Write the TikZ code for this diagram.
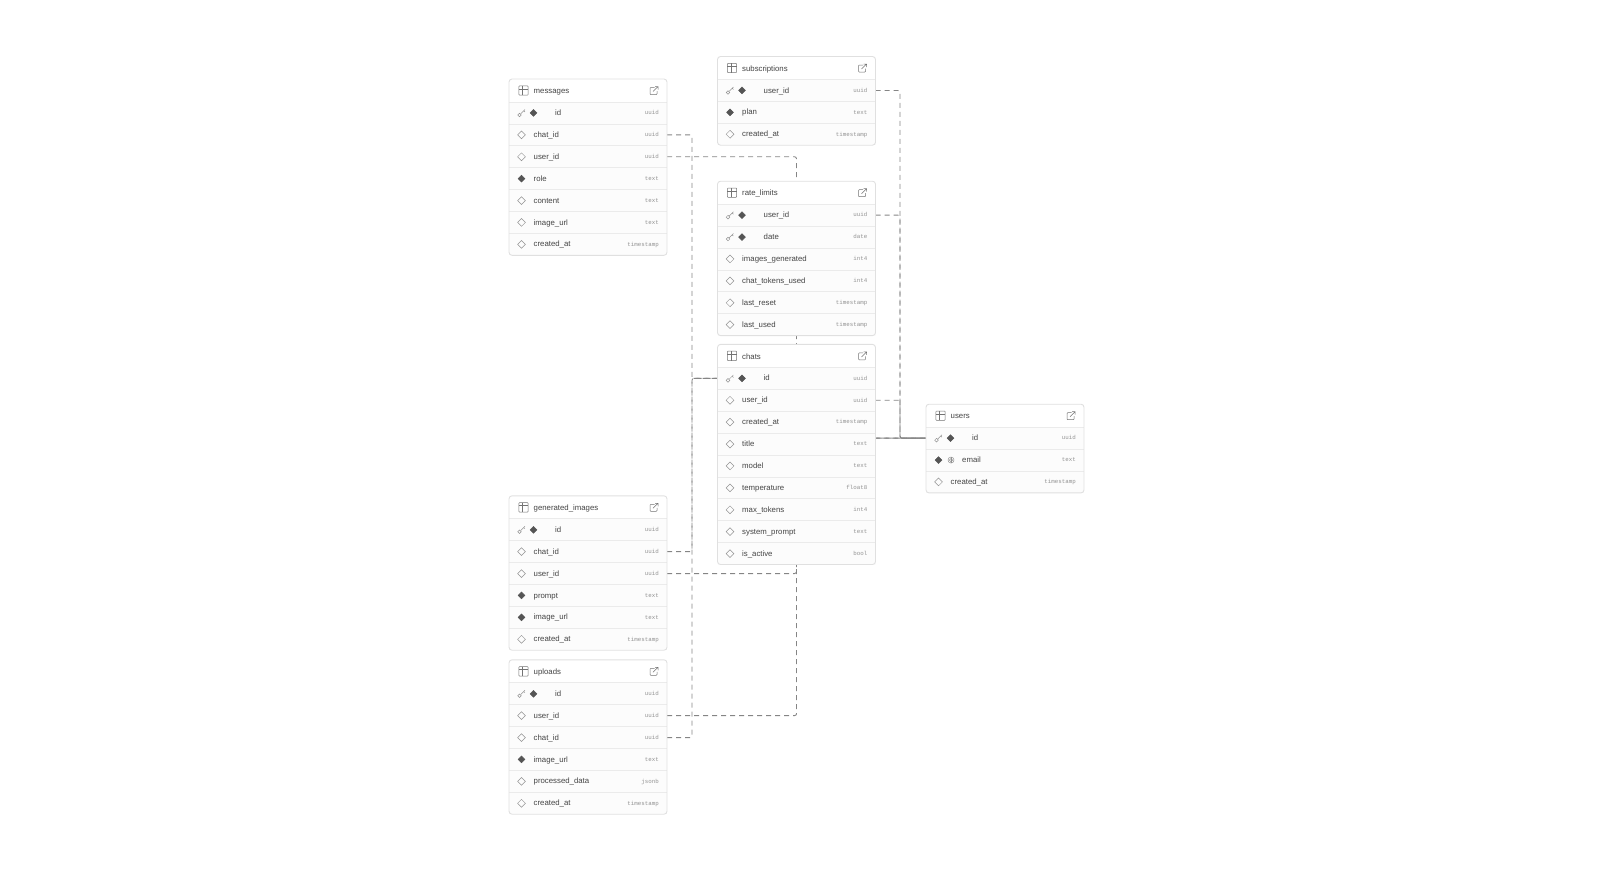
\documentclass[tikz,border=0pt]{standalone}
\usepackage{fontspec}
\setmainfont{Liberation Sans}
\setmonofont{Liberation Mono}
\usetikzlibrary{positioning,shapes.geometric,backgrounds}

\definecolor{inkdark}{HTML}{444444}
\definecolor{inkfull}{HTML}{555555}
\definecolor{inkgrey}{HTML}{929292}
\definecolor{edgegrey}{HTML}{E0E0E0}
\definecolor{rulegrey}{HTML}{EBEBEB}
\definecolor{rowfill}{HTML}{FCFCFC}
\definecolor{linkgrey}{HTML}{858585}

\tikzset{
  headbox/.style={minimum width=158pt, minimum height=23pt, inner sep=0pt, outer sep=0pt, fill=white},
  rowbox/.style={minimum width=158pt, minimum height=21.9pt, inner sep=0pt, outer sep=0pt, fill=rowfill},
  nametext/.style={anchor=west, inner sep=0pt, text=inkdark, font=\fontsize{7.8pt}{9pt}\selectfont, text height=6pt, text depth=2pt},
  typetext/.style={anchor=east, inner sep=0pt, text=inkgrey, font=\ttfamily\fontsize{5.8pt}{7pt}\selectfont, text height=5pt, text depth=1.5pt},
  openmark/.style={diamond, draw=inkgrey, line width=0.5pt, minimum width=8pt, minimum height=8pt, inner sep=0pt},
  fullmark/.style={diamond, draw=inkfull, fill=inkfull, line width=0.5pt, minimum width=7pt, minimum height=7pt, inner sep=0pt},
  rowline/.style={draw=rulegrey, line width=0.8pt},
  frameline/.style={draw=edgegrey, line width=0.9pt, rounded corners=3pt},
  iconline/.style={draw=inkdark!75, line width=0.5pt},
  fainticon/.style={draw=inkgrey, line width=0.5pt},
  fk/.style={draw=linkgrey, line width=0.9pt, dash pattern=on 5pt off 4pt, rounded corners=2pt},
  keyicon/.pic={
    \draw[fainticon] (-2,-2) circle (1.8);
    \draw[fainticon] (-0.8,-0.8) -- (3.4,3.4) (2.2,2.2) -- (3.4,1);
  },
  gridicon/.pic={
    \draw[iconline, rounded corners=0.8pt] (-4.7,-4.7) rectangle (4.7,4.7);
    \draw[iconline] (-4.7,1.6) -- (4.7,1.6) (-1,4.7) -- (-1,-4.7);
  },
  linkicon/.pic={
    \draw[iconline, rounded corners=0.8pt] (0.5,3) -- (-4,3) -- (-4,-4) -- (3,-4) -- (3,-0.5);
    \draw[iconline] (-1,-1) -- (4,4) (1,4) -- (4,4) -- (4,1);
  },
  printicon/.pic={
    \draw[fainticon] (0,0) circle (3) (0,0) circle (1.6);
    \draw[fainticon] (0,-3) -- (0,3);
  },
}

% name, top left corner, title
\newcommand{\dbhead}[3]{
  \node[headbox, anchor=north west] (#1) at (#2) {};
  \pic at ([xshift=14.5pt]#1.west) {gridicon};
  \pic at ([xshift=-13pt]#1.east) {linkicon};
  \node[nametext] (#1text) at ([xshift=24.5pt, yshift=-1.2pt]#1.west) {#3};
}
% name, row above, text indent, text, type
\newcommand{\dbrow}[5]{
  \node[rowbox, below=0pt of #2] (#1) {};
  \draw[rowline] (#1.north west) -- (#1.north east);
  \node[nametext] (#1text) at ([xshift=#3, yshift=-0.6pt]#1.west) {#4};
  \node[typetext] (#1type) at ([xshift=-8pt]#1.east) {#5};
}
\newcommand{\keyrow}[4]{
  \dbrow{#1}{#2}{46pt}{#3}{#4}
  \pic at ([xshift=12.5pt]#1.west) {keyicon};
  \node[fullmark] (#1mark) at ([xshift=24.5pt]#1.west) {};
}
\newcommand{\fullrow}[4]{
  \dbrow{#1}{#2}{24.5pt}{#3}{#4}
  \node[fullmark] (#1mark) at ([xshift=12.5pt]#1.west) {};
}
\newcommand{\openrow}[4]{
  \dbrow{#1}{#2}{24.5pt}{#3}{#4}
  \node[openmark] (#1mark) at ([xshift=12.5pt]#1.west) {};
}
\newcommand{\dbframe}[2]{
  \draw[frameline] (#1.north west) rectangle (#2.south east);
}

\begin{document}
\begin{tikzpicture}[x=1pt, y=1pt]
  \useasboundingbox (0,0) rectangle (1615,-895);

  % messages
  \dbhead{msg}{509,-79}{messages}
  \keyrow{msgid}{msg}{id}{uuid}
  \openrow{msgchat}{msgid}{chat\_id}{uuid}
  \openrow{msguser}{msgchat}{user\_id}{uuid}
  \fullrow{msgrole}{msguser}{role}{text}
  \openrow{msgbody}{msgrole}{content}{text}
  \openrow{msgimage}{msgbody}{image\_url}{text}
  \openrow{msgdate}{msgimage}{created\_at}{timestamp}
  \dbframe{msg}{msgdate}

  % subscriptions
  \dbhead{sub}{717.5,-56.5}{subscriptions}
  \keyrow{subuser}{sub}{user\_id}{uuid}
  \fullrow{subplan}{subuser}{plan}{text}
  \openrow{subdate}{subplan}{created\_at}{timestamp}
  \dbframe{sub}{subdate}

  % rate_limits
  \dbhead{rate}{717.5,-181.2}{rate\_limits}
  \keyrow{rateuser}{rate}{user\_id}{uuid}
  \keyrow{rateday}{rateuser}{date}{date}
  \openrow{rateimages}{rateday}{images\_generated}{int4}
  \openrow{ratetokens}{rateimages}{chat\_tokens\_used}{int4}
  \openrow{ratereset}{ratetokens}{last\_reset}{timestamp}
  \openrow{rateused}{ratereset}{last\_used}{timestamp}
  \dbframe{rate}{rateused}

  % chats
  \dbhead{chats}{717.5,-344.4}{chats}
  \keyrow{chatsid}{chats}{id}{uuid}
  \openrow{chatsuser}{chatsid}{user\_id}{uuid}
  \openrow{chatsdate}{chatsuser}{created\_at}{timestamp}
  \openrow{chatstitle}{chatsdate}{title}{text}
  \openrow{chatsmodel}{chatstitle}{model}{text}
  \openrow{chatstemp}{chatsmodel}{temperature}{float8}
  \openrow{chatsmax}{chatstemp}{max\_tokens}{int4}
  \openrow{chatsprompt}{chatsmax}{system\_prompt}{text}
  \openrow{chatsactive}{chatsprompt}{is\_active}{bool}
  \dbframe{chats}{chatsactive}

  % users
  \dbhead{users}{926,-404.2}{users}
  \keyrow{usersid}{users}{id}{uuid}
  \fullrow{usersmail}{usersid}{}{text}
  \pic at ([xshift=25pt]usersmail.west) {printicon};
  \node[nametext] (usersmailtext) at ([xshift=36pt, yshift=-0.6pt]usersmail.west) {email};
  \openrow{usersdate}{usersmail}{created\_at}{timestamp}
  \dbframe{users}{usersdate}

  % generated_images
  \dbhead{gen}{509,-495.8}{generated\_images}
  \keyrow{genid}{gen}{id}{uuid}
  \openrow{genchat}{genid}{chat\_id}{uuid}
  \openrow{genuser}{genchat}{user\_id}{uuid}
  \fullrow{genprompt}{genuser}{prompt}{text}
  \fullrow{genimage}{genprompt}{image\_url}{text}
  \openrow{gendate}{genimage}{created\_at}{timestamp}
  \dbframe{gen}{gendate}

  % uploads
  \dbhead{upl}{509,-659.8}{uploads}
  \keyrow{uplid}{upl}{id}{uuid}
  \openrow{upluser}{uplid}{user\_id}{uuid}
  \openrow{uplchat}{upluser}{chat\_id}{uuid}
  \fullrow{uplimage}{uplchat}{image\_url}{text}
  \openrow{upldata}{uplimage}{processed\_data}{jsonb}
  \openrow{upldate}{upldata}{created\_at}{timestamp}
  \dbframe{upl}{upldate}

  \coordinate (leftbus) at (692,0);
  \coordinate (rightbus) at (900,0);

  % links run under the tables
  \begin{scope}[on background layer]
    \draw[fk] (msgchat.east) -- (msgchat.east -| leftbus) -- (leftbus |- chatsid) -- (chatsid.west);
    \draw[fk] (genchat.east) -- (genchat.east -| leftbus) -- (leftbus |- chatsid) -- (chatsid.west);
    \draw[fk] (uplchat.east) -- (uplchat.east -| leftbus) -- (leftbus |- chatsid) -- (chatsid.west);

    \draw[fk] (msguser.east) -- (msguser.east -| chats.center) -- (chats.center |- usersid) -- (usersid.west);
    \draw[fk] (genuser.east) -- (genuser.east -| chats.center) -- (chats.center |- usersid) -- (usersid.west);
    \draw[fk] (upluser.east) -- (upluser.east -| chats.center) -- (chats.center |- usersid) -- (usersid.west);

    \draw[fk] (subuser.east) -- (subuser.east -| rightbus) -- (rightbus |- usersid) -- (usersid.west);
    \draw[fk] (rateuser.east) -- (rateuser.east -| rightbus) -- (rightbus |- usersid) -- (usersid.west);
    \draw[fk] (chatsuser.east) -- (chatsuser.east -| rightbus) -- (rightbus |- usersid) -- (usersid.west);
  \end{scope}
\end{tikzpicture}
\end{document}
